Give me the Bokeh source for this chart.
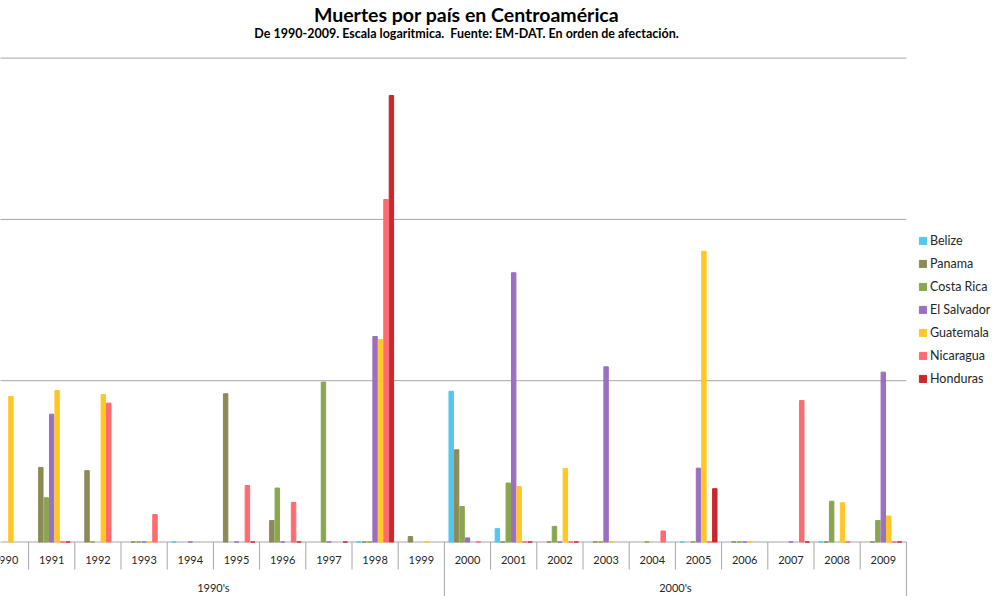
from bokeh.plotting import figure
from bokeh.models import Range1d, Legend, LegendItem, Label, ColumnDataSource
from bokeh.core.properties import value
from bokeh.embed import file_html
from bokeh.resources import INLINE

# ---------------- data ----------------
years = [str(y) for y in range(1990, 2010)]
decades = ["1990's", "2000's"]
countries = ["Belize", "Panama", "Costa Rica", "El Salvador", "Guatemala", "Nicaragua", "Honduras"]
N = None
belize      = [N, N, N, N, 1, N, N, N, 1, N, 8.6, 1.21, N, N, N, 1, N, N, 1, N]
panama      = [N, 2.9, 2.77, 1, N, 8.3, 1.36, N, 1, 1.08, 3.73, 1, 1, 1, N, N, 1, N, 1, 1]
costa_rica  = [N, 1.88, 1, 1, N, N, 2.16, 9.8, 1, N, 1.66, 2.32, 1.25, 1, 1, 1, 1, N, 1.79, 1.36]
el_salvador = [N, 6.2, N, 1, 1, 1, 1, 1, 18.8, N, 1.06, 46.7, 1, 12.2, N, 2.87, 1, 1, N, 11.3]
guatemala   = [8.0, 8.7, 8.2, 1, N, N, N, N, 18.0, 1, N, 2.21, 2.86, 1, N, 63.5, 1, N, 1.75, 1.45]
nicaragua   = [N, 1, 7.26, 1.48, N, 2.24, 1.76, N, 132.8, N, 1, 1, 1, N, 1.17, 1, N, 7.54, 1, 1]
honduras    = [N, 1, N, N, N, 1, 1, 1, 586, N, N, 1, 1, N, N, 2.14, N, 1, N, 1]
series = [belize, panama, costa_rica, el_salvador, guatemala, nicaragua, honduras]
colors = ["#55C6EE", "#8C8A55", "#8BA650", "#9B6FC1", "#FFC726", "#FF6B6E", "#C9282D"]
gridlines = [10, 100, 1000]
base = 1

# ---------------- layout helpers (pixel -> data) ----------------
PX_PER_CAT = 46.2
X0_PX = 5.0
BASE_PX = 541.5
PX_PER_DEC = 161.3
def xpx(px):
    return (px - X0_PX) / PX_PER_CAT
def ypx(py):
    return 10 ** ((BASE_PX - py) / PX_PER_DEC)

FONT = "Lato"
GRAY = "#A6A6A6"

p = figure(width=999, height=596,
           x_range=Range1d(xpx(0), xpx(999)),
           y_range=Range1d(ypx(596), ypx(0)),
           y_axis_type="log",
           x_axis_location=None, y_axis_location=None,
           toolbar_location=None, output_backend="svg",
           min_border=0, title=None, outline_line_color=None)
p.grid.visible = False
p.background_fill_color = "white"
p.border_fill_color = "white"

ncat = len(years)
# horizontal gridlines + base line
p.segment(x0=[-0.5] * len(gridlines), x1=[ncat - 0.5] * len(gridlines),
          y0=gridlines, y1=gridlines, line_color=GRAY, line_width=1)
p.segment(x0=[-0.5], x1=[ncat - 0.5], y0=[base], y1=[base], line_color=GRAY, line_width=1)

# bars
nser = len(series)
slot = 1 / (nser + 1.5)
renderers = []
for k, (name, vals, col) in enumerate(zip(countries, series, colors)):
    xs, tops = [], []
    for i, v in enumerate(vals):
        if v is None:
            continue
        xs.append(i + (k - (nser - 1) / 2) * slot)
        tops.append(v)
    src = ColumnDataSource(dict(x=xs, top=tops, bottom=[base] * len(xs)))
    r = p.vbar(x="x", top="top", bottom="bottom", width=slot - 1 / PX_PER_CAT, source=src,
               fill_color=col, line_color=col, line_width=1)
    renderers.append((name, r))

# category axis: separators
sep_bottom = ypx(569)
inner = [i + 0.5 for i in range(ncat - 1) if i != 9]
p.segment(x0=inner, x1=inner, y0=[base] * len(inner), y1=[sep_bottom] * len(inner),
          line_color=GRAY, line_width=1)
outer = [-0.5, 9.5, ncat - 0.5]
p.segment(x0=outer, x1=outer, y0=[base] * 3, y1=[ypx(596)] * 3, line_color=GRAY, line_width=1)

# year labels
p.text(x=list(range(ncat)), y=[ypx(559)] * ncat, text=years,
       text_font=value(FONT), text_font_size=value("11px"), text_color="#262626",
       text_align="center", text_baseline="middle")
# decade labels
p.text(x=[4.5, 14.5], y=[ypx(587)] * 2, text=decades,
       text_font=value(FONT), text_font_size=value("11px"), text_color="#262626",
       text_align="center", text_baseline="middle")

# title and subtitle
p.add_layout(Label(x=xpx(466), y=ypx(14), text="Muertes por país en Centroamérica",
                   text_font=FONT, text_font_size="19.5px", text_font_style="bold",
                   text_color="black", text_align="center", text_baseline="middle"))
p.add_layout(Label(x=xpx(466), y=ypx(33),
                   text="De 1990-2009. Escala logaritmica.\u00a0 Fuente: EM-DAT. En orden de afectación.",
                   text_font=FONT, text_font_size="12.5px", text_font_style="bold",
                   text_color="black", text_align="center", text_baseline="middle"))

legend = Legend(items=[LegendItem(label=n, renderers=[r]) for n, r in renderers],
                location=(918, 210), orientation="vertical",
                glyph_width=9, glyph_height=9, label_height=16, spacing=7,
                label_standoff=3, padding=0, margin=0,
                border_line_color=None, background_fill_alpha=0,
                label_text_font=FONT, label_text_font_size="12.5px", label_text_color="#262626")
p.add_layout(legend)

open("out.html", "w").write(file_html(p, INLINE))
